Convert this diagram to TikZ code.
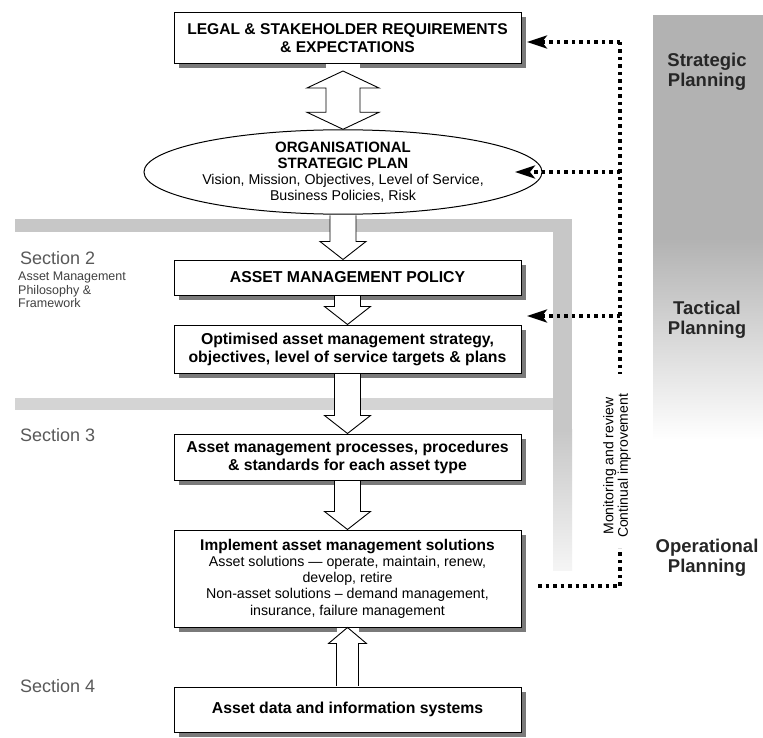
\documentclass[tikz,border=0pt]{standalone}
\usepackage{fontspec}
\setmainfont{Liberation Sans}
\usetikzlibrary{shapes.geometric,arrows.meta,calc,shadows}
% block arrow pointing down from the south of #1 to the north of #2
% #3 shaft half width, #4 head half width, #5 head length
\newcommand{\BlockDown}[5]{%
  \fill[white] let \p1=(#1.south), \p2=(#2.north) in
    (\x1-#3,\y1-0.5pt) rectangle (\x1+#3,\y1-6pt);
  \draw[blockarrow] let \p1=(#1.south), \p2=(#2.north) in
    (\x1-#3,\y1-0.6pt) -- (\x1-#3,\y2+#5) -- (\x1-#4,\y2+#5) -- (\x1,\y2)
    -- (\x1+#4,\y2+#5) -- (\x1+#3,\y2+#5) -- (\x1+#3,\y1-0.6pt);}
\newcommand{\regtext}[1]{{\mdseries\fontsize{14.2}{16}\selectfont #1}}
\begin{document}
\begin{tikzpicture}[x=1pt,y=-1pt,
  box/.style={draw=black, line width=1pt, fill=white, minimum width=347pt,
    align=center, inner sep=2pt, font=\bfseries\fontsize{15.8}{18}\selectfont,
    drop shadow={fill=gray!70!black, opacity=0.8, shadow xshift=5pt, shadow yshift=-5pt}},
  blockarrow/.style={draw=black, line width=0.9pt, fill=white},
  fbline/.style={line width=3.5pt, dash pattern=on 3.5pt off 4pt},
  fbarrow/.style={fbline, -{Stealth[length=20pt,width=13pt,inset=5pt]}},
  sectlab/.style={anchor=west, inner sep=0pt, text=black!65, font=\fontsize{18}{20}\selectfont},
  sectsub/.style={anchor=north west, inner sep=0pt, align=left, text=black!75,
    font=\fontsize{12.5}{13.5}\selectfont},
  planlab/.style={align=center, text=black!85, font=\bfseries\fontsize{18.5}{20}\selectfont}
]
\useasboundingbox (0,0) rectangle (763,738);
\fill[white] (0,0) rectangle (763,738);
% planning band
\fill[black!30] (653,15) rectangle (763,240);
\shade[top color=black!30, bottom color=white] (653,239.5) rectangle (763,440);
% section frame bands
\fill[black!22] (15,219) rectangle (572,232);
\fill[black!22] (553,219) rectangle (572,430);
\shade[top color=black!22, bottom color=black!4] (553,429.5) rectangle (572,570);
\fill[black!17] (15,398) rectangle (553,410);

% boxes
\node[box, minimum height=51pt, font=\bfseries\fontsize{15.6}{18}\selectfont] (legal) at (347.5,38)
  {LEGAL \& STAKEHOLDER REQUIREMENTS\\\& EXPECTATIONS};
\node[draw=black, line width=1pt, fill=white, ellipse, minimum width=340pt,
  minimum height=82pt, inner sep=0pt, align=center,
  font=\bfseries\fontsize{15}{15.8}\selectfont] (plan) at (343,172)
  {ORGANISATIONAL\\STRATEGIC PLAN\\
   \regtext{Vision, Mission, Objectives, Level of Service,}\\\regtext{Business Policies, Risk}};
\node[box, minimum height=35pt] (policy) at (347.5,277.5) {ASSET MANAGEMENT POLICY};
\node[box, minimum height=48pt] (strategy) at (347.5,349)
  {Optimised asset management strategy,\\objectives, level of service targets \& plans};
\node[box, minimum height=46pt] (proc) at (347.5,457)
  {Asset management processes, procedures\\\& standards for each asset type};
\node[box, minimum height=97pt, font=\bfseries\fontsize{15.5}{16.2}\selectfont] (impl) at (347.5,578.5)
  {Implement asset management solutions\\
   \regtext{Asset solutions --- operate, maintain, renew,}\\\regtext{develop, retire}\\
   \regtext{Non-asset solutions -- demand management,}\\\regtext{insurance, failure management}};
\node[box, minimum height=45pt] (data) at (347.5,709.5) {Asset data and information systems};

% block arrows
\fill[white] let \p1=(legal.south), \p2=(plan.north) in
  (\x2-17pt,\y1-0.5pt) rectangle (\x2+17pt,\y1-6pt);
\draw[blockarrow] let \p1=(legal.south), \p2=(plan.north) in
  (\x2,\y1-7pt) -- (\x2+36pt,\y1-24pt) -- (\x2+17pt,\y1-24pt) -- (\x2+17pt,\y2+17pt)
  -- (\x2+36pt,\y2+17pt) -- (\x2,\y2) -- (\x2-36pt,\y2+17pt) -- (\x2-17pt,\y2+17pt)
  -- (\x2-17pt,\y1-24pt) -- (\x2-36pt,\y1-24pt) -- cycle;
\BlockDown{plan}{policy}{13pt}{23pt}{18pt}
\BlockDown{policy}{strategy}{13pt}{23pt}{18pt}
\BlockDown{strategy}{proc}{13pt}{23pt}{18pt}
\BlockDown{proc}{impl}{13pt}{23pt}{18pt}
\fill[white] let \p1=(impl.south) in (\x1-11pt,\y1-0.5pt) rectangle (\x1+11pt,\y1-6pt);
\draw[blockarrow] let \p1=(data.north), \p2=(impl.south) in
  (\x1-11pt,\y1+0.6pt) -- (\x1-11pt,\y2-16pt) -- (\x1-19pt,\y2-16pt) -- (\x1,\y2)
  -- (\x1+19pt,\y2-16pt) -- (\x1+11pt,\y2-16pt) -- (\x1+11pt,\y1+0.6pt);

% labels
\node[sectlab] (s2) at (20,258) {Section 2};
\node[sectsub] (s2sub) at (18,272) {Asset Management\\Philosophy \&\\Framework};
\node[sectlab] (s3) at (20,435) {Section 3};
\node[sectlab] (s4) at (20,686) {Section 4};
\node[planlab] (strat) at (707,72) {Strategic\\Planning};
\node[planlab] (tact) at (707,320) {Tactical\\Planning};
\node[planlab] (oper) at (707,558) {Operational\\Planning};
\node[rotate=90, align=center, font=\fontsize{14}{14.5}\selectfont] (mon) at (617,466)
  {Monitoring and review\\Continual improvement};

% feedback loop
\coordinate (fbtop) at (620,42);
\coordinate (fbmid) at (620,172);
\coordinate (fbtac) at (620,316);
\coordinate (fbstop) at (620,374);
\coordinate (fbres) at (620,548);
\coordinate (fbcorner) at (620,586);
\coordinate (fbend) at (538,586);
\coordinate (legtip) at (527,42);
\coordinate (plantip) at (515,172);
\coordinate (tactip) at (527,316);
\draw[fbline] (fbtop) -- (fbstop);
\draw[fbline] (fbend) -- (fbcorner) -- (fbres);
\draw[fbarrow] (fbtop) -- (legtip);
\draw[fbarrow] (fbmid) -- (plantip);
\draw[fbarrow] (fbtac) -- (tactip);
\end{tikzpicture}
\end{document}
